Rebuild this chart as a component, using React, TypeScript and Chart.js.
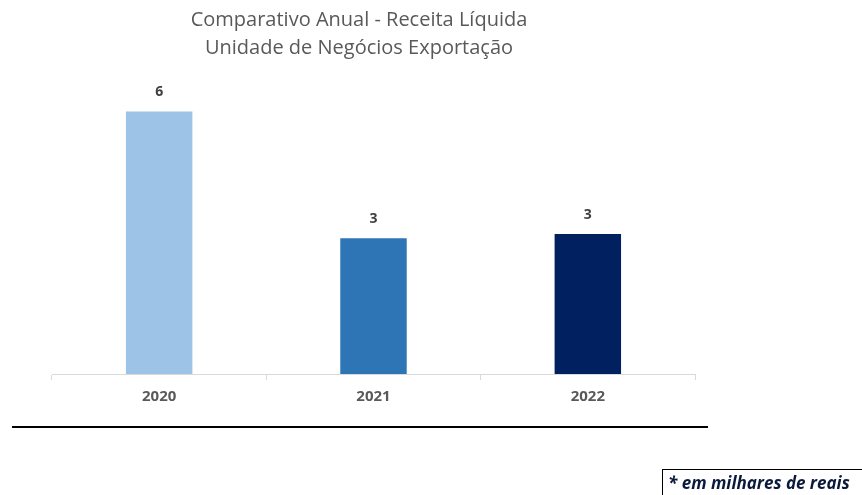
import React, { useEffect, useRef } from "react";
import { Chart, registerables } from "chart.js";

Chart.register(...registerables);

const titleLines = ["Comparativo Anual - Receita Líquida", "Unidade de Negócios Exportação"];
const categories = ["2020", "2021", "2022"];
const receitaLiquida = [6.0, 3.1, 3.2];
const barColors = ["#9DC3E6", "#2E75B6", "#002060"];
const footnote = "* em milhares de reais";

const valueLabels = {
  id: "valueLabels",
  afterDatasetsDraw(chart: any) {
    const ctx = chart.ctx;
    const meta = chart.getDatasetMeta(0);
    ctx.save();
    ctx.font = "bold 14px 'Open Sans'";
    ctx.fillStyle = "#404040";
    ctx.textAlign = "center";
    ctx.textBaseline = "middle";
    meta.data.forEach((bar: any, i: number) => {
      const v = chart.data.datasets[0].data[i] as number;
      ctx.fillText(String(Math.round(v)), bar.x, bar.y - 19);
    });
    ctx.restore();
  },
};

const titleAndRule = {
  id: "titleAndRule",
  afterDraw(chart: any) {
    const ctx = chart.ctx;
    ctx.save();
    ctx.fillStyle = "#595959";
    ctx.font = "20px 'Open Sans'";
    ctx.textAlign = "center";
    ctx.textBaseline = "middle";
    ctx.fillText(titleLines[0], 359, 20);
    ctx.fillText(titleLines[1], 359, 48);
    ctx.strokeStyle = "#000000";
    ctx.lineWidth = 2;
    ctx.beginPath();
    ctx.moveTo(12, 427);
    ctx.lineTo(708, 427);
    ctx.stroke();
    ctx.restore();
  },
};

export default function App() {
  const ref = useRef<HTMLCanvasElement>(null);
  useEffect(() => {
    document.body.style.margin = "0";
    const chart = new Chart(ref.current!, {
      type: "bar",
      data: {
        labels: categories,
        datasets: [
          {
            data: receitaLiquida,
            backgroundColor: barColors,
            barPercentage: 0.62,
            categoryPercentage: 0.5,
          },
        ],
      },
      options: {
        animation: false,
        responsive: false,
        maintainAspectRatio: false,
        layout: { padding: { left: 52, right: 167, top: 72, bottom: 81 } },
        plugins: {
          legend: { display: false },
          tooltip: { enabled: false },
          title: { display: false },
        },
        scales: {
          x: {
            grid: {
              display: true,
              drawOnChartArea: false,
              offset: true,
              color: "#D9D9D9",
              tickLength: 6,
              lineWidth: 1,
            },
            border: { display: true, color: "#D9D9D9", width: 1 },
            ticks: {
              color: "#595959",
              font: { family: "'Open Sans'", size: 15, weight: "bold" },
              padding: 8,
            },
          },
          y: {
            display: false,
            min: 0,
            max: 6.9,
          },
        },
      },
      plugins: [valueLabels, titleAndRule],
    });
    return () => chart.destroy();
  }, []);
  return (
    <div style={{ position: "relative", width: 862, height: 495, overflow: "hidden", background: "#fff" }}>
      <canvas ref={ref} width={862} height={495} style={{ display: "block" }} />
      <div
        style={{
          position: "absolute",
          left: 662,
          top: 469,
          width: 220,
          height: 40,
          border: "1px solid #000",
          boxSizing: "border-box",
          padding: "0 0 0 5px",
          lineHeight: "26px",
          fontFamily: "'Open Sans'",
          fontWeight: "bold",
          fontStyle: "italic",
          fontSize: 17,
          color: "#0A1A3C",
          whiteSpace: "nowrap",
        }}
      >
        {footnote}
      </div>
    </div>
  );
}
